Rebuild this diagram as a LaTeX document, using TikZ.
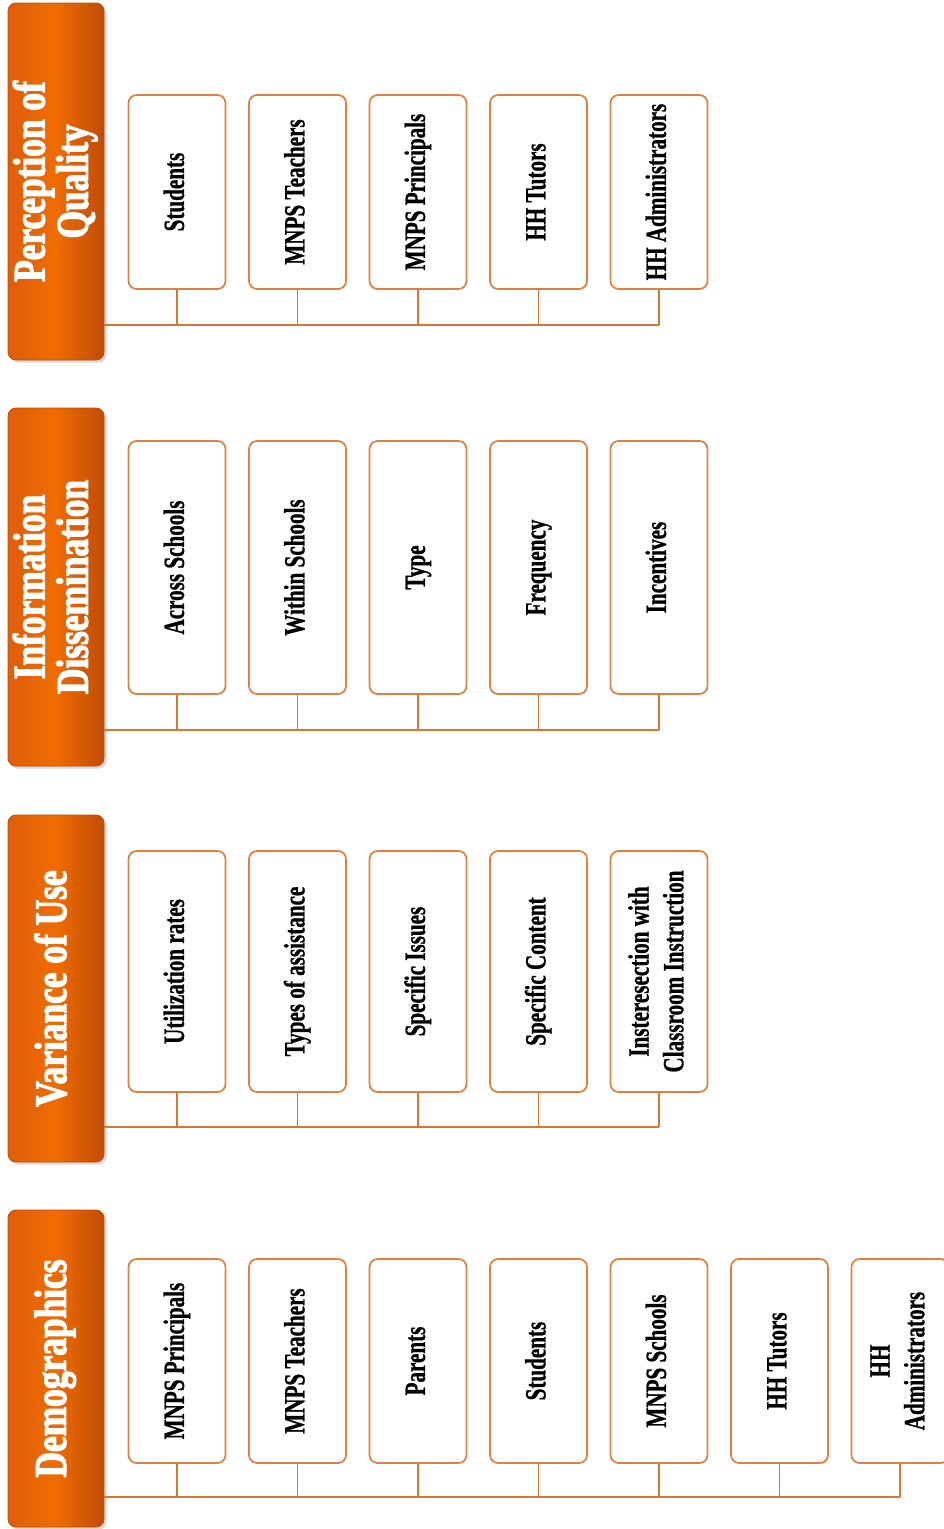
\documentclass[tikz,border=0pt]{standalone}
\usepackage{fontspec}
\setmainfont{Liberation Serif}
\newfontfamily\barfont[FakeStretch=0.78, FakeBold=2.5]{Liberation Serif}
\newfontfamily\itemfont[FakeStretch=0.72, FakeBold=0.8]{Liberation Serif}
\usetikzlibrary{shadows}

\definecolor{barleft}{RGB}{222,94,10}
\definecolor{barmid}{RGB}{240,108,2}
\definecolor{barright}{RGB}{192,76,8}
\definecolor{boxline}{RGB}{224,128,64}
\definecolor{linkline}{RGB}{214,118,48}

\newcommand{\vtext}[1]{\rotatebox{90}{\begin{tabular}{@{}c@{}}#1\end{tabular}}}

\tikzset{
  catbar/.style={rectangle, rounded corners=6pt, draw=barright, line width=0.6pt,
    left color=barleft, right color=barright, middle color=barmid,
    drop shadow={opacity=0.3, shadow xshift=2pt, shadow yshift=-2pt},
    minimum width=72pt, inner sep=0pt, text=white,
    font=\barfont\bfseries\fontsize{34}{29}\selectfont},
  itembox/.style={rectangle, rounded corners=6pt, draw=boxline, line width=1.3pt,
    fill=white, minimum width=72.75pt, inner sep=0pt, text=black,
    font=\itemfont\bfseries\fontsize{22}{26}\selectfont},
  link/.style={draw=linkline, line width=1.1pt}
}

\begin{document}
\begin{tikzpicture}[x=0.75pt,y=-0.75pt]
\useasboundingbox (0,0) rectangle (944,1529);

% Perception of Quality
\node[catbar, minimum height=267.75pt] (pqhead) at (56,181.5) {\vtext{Perception of\\Quality}};
\coordinate (pqbus) at (104,325);
\foreach \lab [count=\i] in {Students, MNPS Teachers, MNPS Principals, HH Tutors, HH Administrators}{
  \node[itembox, minimum height=145.5pt] (pq\i) at ({177+120.5*(\i-1)},192) {\vtext{\lab}};
  \draw[link] (pq\i.south) -- (pq\i.south |- pqbus);
}
\draw[link] (pqhead.east |- pqbus) -- (pq5.south |- pqbus);

% Information Dissemination
\node[catbar, minimum height=268.5pt] (idhead) at (56,587) {\vtext{Information\\Dissemination}};
\coordinate (idbus) at (104,730);
\foreach \lab [count=\i] in {Across Schools, Within Schools, Type, Frequency, Incentives}{
  \node[itembox, minimum height=189.75pt] (id\i) at ({177+120.5*(\i-1)},567.5) {\vtext{\lab}};
  \draw[link] (id\i.south) -- (id\i.south |- idbus);
}
\draw[link] (idhead.east |- idbus) -- (id5.south |- idbus);

% Variance of Use
\node[catbar, minimum height=260.25pt] (vuhead) at (56,988.5) {\vtext{Variance of Use}};
\coordinate (vubus) at (104,1127);
\foreach \lab [count=\i] in {Utilization rates, Types of assistance, Specific Issues, Specific Content, {Insteresection with\\Classroom Instruction}}{
  \node[itembox, minimum height=180.75pt] (vu\i) at ({177+120.5*(\i-1)},971.5) {\vtext{\lab}};
  \draw[link] (vu\i.south) -- (vu\i.south |- vubus);
}
\draw[link] (vuhead.east |- vubus) -- (vu5.south |- vubus);

% Demographics
\node[catbar, minimum height=237.75pt] (dmhead) at (56,1368.5) {\vtext{Demographics}};
\coordinate (dmbus) at (104,1497);
\foreach \lab [count=\i] in {MNPS Principals, MNPS Teachers, Parents, Students, MNPS Schools, HH Tutors, {HH\\Administrators}}{
  \node[itembox, minimum height=153pt] (dm\i) at ({177+120.5*(\i-1)},1361) {\vtext{\lab}};
  \draw[link] (dm\i.south) -- (dm\i.south |- dmbus);
}
\draw[link] (dmhead.east |- dmbus) -- (dm7.south |- dmbus);

\end{tikzpicture}
\end{document}
